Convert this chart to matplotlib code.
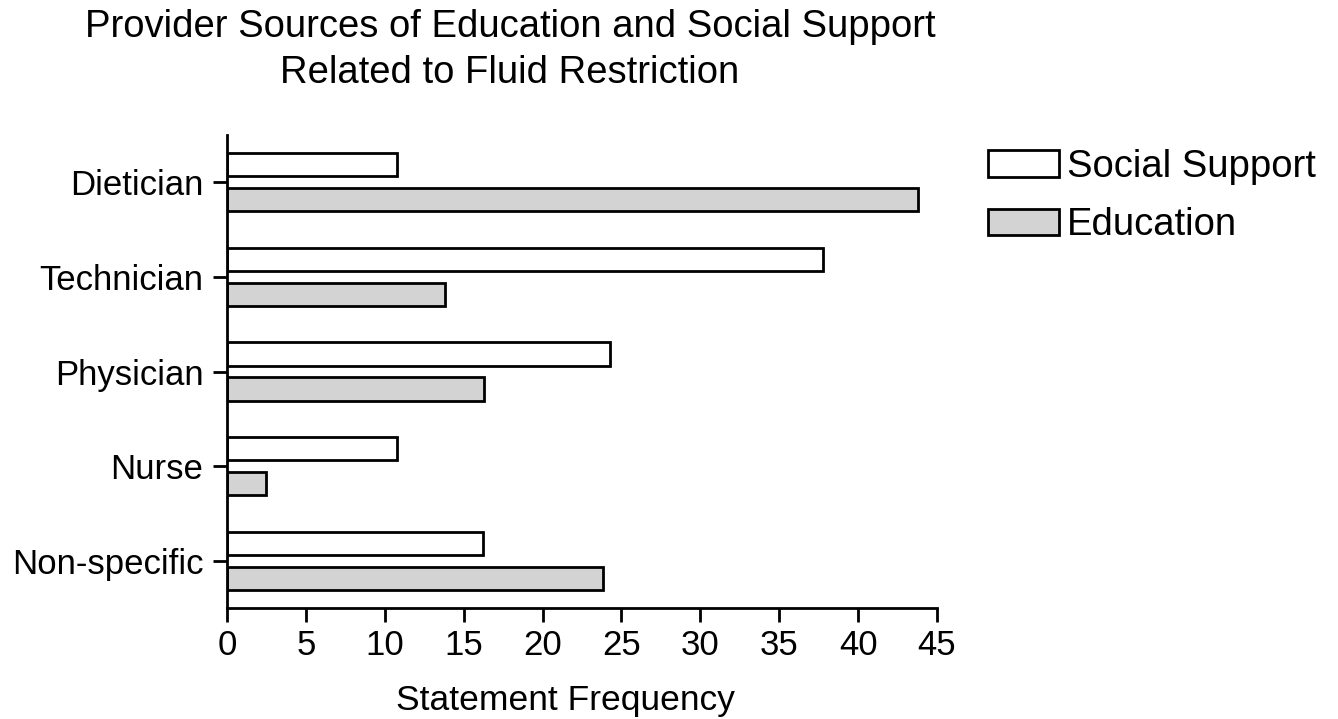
import matplotlib.pyplot as plt
import numpy as np
from matplotlib.patches import Patch

plt.rcParams['font.family'] = ['Liberation Sans', 'DejaVu Sans']

providers = ['Dietician', 'Technician', 'Physician', 'Nurse', 'Non-specific']
social_support = [10.8, 37.8, 24.3, 10.8, 16.2]
education = [43.8, 13.8, 16.3, 2.5, 23.8]

W, H = 1338, 719
fig = plt.figure(figsize=(W/100, H/100), dpi=100)
ax = fig.add_axes([227/W, 1-608/H, (937-227)/W, (608-135)/H])

y = np.arange(len(providers))
h = 0.245
ax.barh(y - 0.185, social_support, height=h, color='white', edgecolor='black', linewidth=2)
ax.barh(y + 0.185, education, height=h, color='#d3d3d3', edgecolor='black', linewidth=2)

ax.set_ylim(len(providers) - 0.5, -0.5)
ax.set_xlim(0, 45)
ax.set_xticks(range(0, 46, 5))
ax.set_yticks(y)
ax.set_yticklabels(providers)
ax.tick_params(axis='both', labelsize=25, width=2, length=10, direction='out')
ax.tick_params(axis='x', pad=5)
ax.tick_params(axis='y', pad=7)

for s in ['top', 'right']:
    ax.spines[s].set_visible(False)
for s in ['left', 'bottom']:
    ax.spines[s].set_linewidth(2)

fig.text(565/W, 1-710/H, 'Statement Frequency', ha='center', va='baseline', fontsize=25.5)

# title, two lines
fig.text(510/W, 1-37/H, 'Provider Sources of Education and Social Support',
         ha='center', va='baseline', fontsize=27.5)
fig.text(510/W, 1-83/H, 'Related to Fluid Restriction',
         ha='center', va='baseline', fontsize=27.5)

handles = [Patch(facecolor='white', edgecolor='black', linewidth=2, label='Social Support'),
           Patch(facecolor='#d3d3d3', edgecolor='black', linewidth=2, label='Education')]
fig.legend(handles=handles, loc='upper left', bbox_to_anchor=(988/W, 1-149/H), frameon=False,
           fontsize=27.5, handlelength=1.85, handleheight=0.68, handletextpad=0.22,
           labelspacing=0.58, borderaxespad=0, borderpad=0)

fig.savefig('out.png', dpi=100)
